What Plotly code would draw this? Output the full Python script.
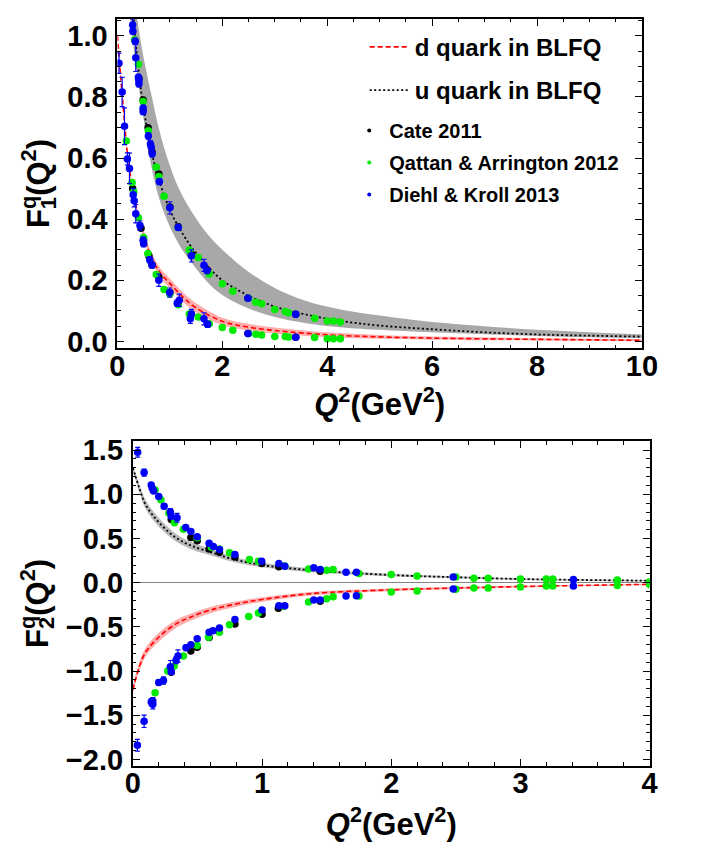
import plotly.graph_objects as go

# ---------------- top panel: F1 ----------------
F1_d_grid = [0, 0.05, 0.1, 0.2, 0.3, 0.4, 0.5, 0.6, 0.8, 1.0, 1.25, 1.5, 2.0, 2.5, 3.0, 4.0, 5.0, 6.0, 8.0, 10.0]
F1_d_curve = [1.0, 0.89, 0.79, 0.60, 0.49, 0.41, 0.35, 0.295, 0.228, 0.19, 0.145, 0.11, 0.066, 0.047, 0.036, 0.022, 0.015, 0.011, 0.007, 0.004]
F1_d_upper = [1.0, 0.895, 0.798, 0.61, 0.502, 0.423, 0.364, 0.31, 0.244, 0.206, 0.161, 0.125, 0.078, 0.058, 0.046, 0.03, 0.021, 0.016, 0.011, 0.007]
F1_d_lower = [1.0, 0.885, 0.782, 0.59, 0.478, 0.397, 0.336, 0.28, 0.212, 0.174, 0.129, 0.095, 0.054, 0.036, 0.026, 0.014, 0.009, 0.006, 0.003, 0.001]

F1_u_grid = [0.2, 0.25, 0.3, 0.37, 0.45, 0.55, 0.65, 0.8, 1.0, 1.2, 1.45, 1.7, 2.0, 2.5, 3.0, 3.6, 4.3, 5.0, 6.0, 7.0, 8.0, 9.0, 10.0]
F1_u_curve = [1.36, 1.2, 1.075, 0.94, 0.82, 0.71, 0.62, 0.525, 0.43, 0.365, 0.30, 0.25, 0.20, 0.15, 0.114, 0.088, 0.066, 0.052, 0.040, 0.030, 0.023, 0.019, 0.016]
F1_u_upper = [1.5, 1.35, 1.2, 1.07, 0.975, 0.885, 0.805, 0.69, 0.575, 0.49, 0.415, 0.355, 0.30, 0.228, 0.175, 0.132, 0.103, 0.085, 0.064, 0.05, 0.038, 0.03, 0.023]
F1_u_lower = [1.15, 1.045, 0.97, 0.88, 0.785, 0.67, 0.57, 0.465, 0.375, 0.31, 0.25, 0.197, 0.152, 0.108, 0.080, 0.060, 0.046, 0.038, 0.030, 0.024, 0.018, 0.014, 0.011]

F1_cate_x = [0.29, 0.45, 0.50, 0.60, 0.66, 0.79, 1.0, 1.16, 1.41, 1.72, 2.49, 3.4,
             0.41, 0.49, 0.585, 0.66, 0.79, 1.0, 1.16, 1.41, 1.71, 2.49, 3.4]
F1_cate_y = [0.50, 0.37, 0.33, 0.28, 0.25, 0.21, 0.16, 0.125, 0.09, 0.056, 0.026, 0.014,
             0.86, 0.79, 0.699, 0.62, 0.548, 0.44, 0.375, 0.285, 0.235, 0.141, 0.089]

F1_qa_x = [0.17, 0.28, 0.31, 0.40, 0.50, 0.58, 0.74, 0.89, 1.0, 1.16, 1.37, 1.54, 1.75, 2.0, 2.2, 2.5, 2.64, 2.75, 3.0, 3.2, 3.26, 3.76, 4.0, 4.12, 4.25,
           0.326, 0.40, 0.49, 0.59, 0.74, 0.79, 0.89, 1.16, 1.37, 1.54, 1.75, 2.0, 2.2, 2.5, 2.64, 2.75, 3.0, 3.2, 3.26, 3.76, 4.0, 4.12, 4.25]
F1_qa_y = [0.656, 0.52, 0.49, 0.405, 0.34, 0.288, 0.219, 0.17, 0.155, 0.12, 0.09, 0.08, 0.058, 0.046, 0.037, 0.026, 0.024, 0.021, 0.016, 0.016, 0.015, 0.013, 0.009, 0.009, 0.009,
           0.987, 0.907, 0.785, 0.689, 0.571, 0.54, 0.475, 0.373, 0.299, 0.275, 0.221, 0.189, 0.164, 0.141, 0.128, 0.123, 0.105, 0.098, 0.094, 0.076, 0.067, 0.067, 0.064]

F1_dk_x = [0.03, 0.09, 0.135, 0.19, 0.23, 0.30, 0.32, 0.35, 0.43, 0.49, 0.50, 0.615, 0.66, 0.79, 0.996, 1.14, 1.18, 1.39, 1.41, 1.65, 1.72, 2.49, 3.4,
           0.29, 0.295, 0.338, 0.35, 0.40, 0.41, 0.41, 0.49, 0.49, 0.59, 0.63, 0.645, 0.664, 0.80, 1.0, 1.16, 1.41, 1.65, 1.71, 2.49, 3.4]
F1_dk_y = [0.91, 0.816, 0.704, 0.597, 0.566, 0.48, 0.46, 0.418, 0.379, 0.331, 0.32, 0.267, 0.25, 0.20, 0.16, 0.125, 0.135, 0.074, 0.09, 0.074, 0.056, 0.026, 0.014,
           1.035, 1.015, 0.982, 0.928, 0.864, 0.854, 0.843, 0.763, 0.752, 0.672, 0.646, 0.635, 0.614, 0.523, 0.437, 0.373, 0.28, 0.249, 0.232, 0.141, 0.089]
F1_dk_err = [0.033, 0.048, 0.06, 0.02, 0.05, 0.02, 0.02, 0.03, 0.015, 0.01, 0.01, 0.01, 0.01, 0.02, 0.015, 0.01, 0.02, 0.015, 0.015, 0.02, 0.01, 0.005, 0.005,
             0.02, 0.01, 0.01, 0.045, 0.01, 0.01, 0.01, 0.01, 0.01, 0.01, 0.01, 0.01, 0.01, 0.01, 0.02, 0.01, 0.02, 0.02, 0.01, 0.005, 0.005]

# ---------------- bottom panel: F2 ----------------
F2_grid = [0, 0.05, 0.1, 0.2, 0.33, 0.45, 0.6, 0.78, 1.0, 1.375, 2.0, 2.5, 3.0, 3.5, 4.0]
F2_u_curve = [1.30, 1.07, 0.88, 0.685, 0.513, 0.42, 0.347, 0.265, 0.20, 0.142, 0.087, 0.062, 0.042, 0.031, 0.023]
F2_u_upper = [1.33, 1.115, 0.93, 0.735, 0.558, 0.46, 0.382, 0.295, 0.225, 0.162, 0.102, 0.074, 0.052, 0.039, 0.030]
F2_u_lower = [1.27, 1.025, 0.83, 0.635, 0.468, 0.38, 0.312, 0.235, 0.175, 0.122, 0.072, 0.050, 0.032, 0.023, 0.016]
F2_d_curve = [-1.21, -0.95, -0.783, -0.617, -0.469, -0.387, -0.309, -0.246, -0.19, -0.124, -0.08, -0.06, -0.043, -0.03, -0.018]
F2_d_upper = [-1.17, -0.90, -0.733, -0.567, -0.424, -0.347, -0.274, -0.216, -0.165, -0.104, -0.065, -0.048, -0.033, -0.022, -0.011]
F2_d_lower = [-1.25, -1.00, -0.833, -0.667, -0.514, -0.427, -0.344, -0.276, -0.215, -0.144, -0.095, -0.072, -0.053, -0.038, -0.025]

F2_cate_x = [0.297, 0.449, 0.498, 0.59, 0.67, 0.79, 0.997, 1.13, 1.45,
             0.297, 0.449, 0.498, 0.59, 0.666, 0.79, 1.0, 1.126, 1.45]
F2_cate_y = [0.716, 0.513, 0.476, 0.383, 0.346, 0.291, 0.217, 0.18, 0.13,
             -1.013, -0.772, -0.73, -0.62, -0.55, -0.468, -0.357, -0.29, -0.21]

F2_qa_x = [0.172, 0.217, 0.279, 0.322, 0.391, 0.498, 0.608, 0.67, 0.748, 0.902, 0.972, 1.176, 1.36, 1.5, 1.55, 1.75, 2.0, 2.2, 2.5, 2.64, 2.75, 3.0, 3.2, 3.25, 3.75, 4.0,
           0.172, 0.27, 0.32, 0.391, 0.498, 0.585, 0.67, 0.748, 0.897, 0.972, 1.17, 1.36, 1.5, 1.55, 1.75, 2.0, 2.2, 2.5, 2.64, 2.75, 3.0, 3.2, 3.25, 3.75, 4.0]
F2_qa_y = [1.05, 0.94, 0.79, 0.68, 0.606, 0.51, 0.402, 0.383, 0.339, 0.264, 0.243, 0.19, 0.154, 0.14, 0.15, 0.105, 0.094, 0.075, 0.064, 0.052, 0.052, 0.041, 0.041, 0.041, 0.03, 0.012,
           -1.246, -1.0, -0.943, -0.828, -0.709, -0.617, -0.56, -0.476, -0.383, -0.343, -0.265, -0.217, -0.18, -0.16, -0.15, -0.105, -0.094, -0.075, -0.06, -0.06, -0.049, -0.037, -0.037, -0.03, -0.02]

F2_dk_x = [0.037, 0.087, 0.142, 0.15, 0.16, 0.2, 0.242, 0.29, 0.297, 0.342, 0.409, 0.449, 0.498, 0.59, 0.623, 0.67, 0.79, 0.997, 1.13, 1.176, 1.4, 1.45, 1.65, 1.73, 2.48, 3.41,
           0.035, 0.087, 0.142, 0.154, 0.154, 0.2, 0.237, 0.29, 0.297, 0.334, 0.349, 0.411, 0.449, 0.498, 0.59, 0.62, 0.67, 0.79, 1.0, 1.13, 1.176, 1.4, 1.45, 1.65, 1.73, 2.48, 3.41]
F2_dk_y = [1.476, 1.246, 1.106, 1.068, 1.039, 0.976, 0.865, 0.80, 0.753, 0.735, 0.624, 0.58, 0.52, 0.446, 0.41, 0.376, 0.32, 0.243, 0.217, 0.187, 0.17, 0.15, 0.12, 0.12, 0.064, 0.037,
           -1.839, -1.568, -1.35, -1.339, -1.376, -1.128, -1.106, -0.95, -1.006, -0.876, -0.83, -0.735, -0.702, -0.635, -0.561, -0.543, -0.513, -0.417, -0.309, -0.261, -0.261, -0.195, -0.195, -0.15, -0.146, -0.071, -0.037]
F2_dk_err = [0.055, 0.04, 0.02, 0.04, 0.02, 0.02, 0.03, 0.04, 0.02, 0.05, 0.02, 0.02, 0.02, 0.02, 0.02, 0.02, 0.02, 0.02, 0.01, 0.01, 0.01, 0.01, 0.01, 0.01, 0.01, 0.01,
             0.067, 0.07, 0.04, 0.04, 0.05, 0.03, 0.04, 0.07, 0.03, 0.04, 0.07, 0.03, 0.02, 0.02, 0.02, 0.02, 0.02, 0.02, 0.02, 0.01, 0.01, 0.01, 0.01, 0.01, 0.01, 0.01, 0.01]

LINE_NAMES = ["d quark in BLFQ", "u quark in BLFQ"]
DATA_NAMES = ["Cate 2011", "Qattan & Arrington 2012", "Diehl & Kroll 2013"]

# ---------------- styling ----------------
FONT = "Liberation Sans, Arial, Helvetica, sans-serif"
RED = "rgb(255,0,0)"
PINK = "rgba(255,60,60,0.42)"
GRAY_TOP = "rgb(168,168,168)"
GRAY_BOT = "rgb(185,185,185)"
GREEN = "rgb(0,235,0)"
BLUE = "rgb(0,0,245)"
MS = 7.5
SMOOTH = 1.0

fig = go.Figure()


def band(x, lo, hi, color, xa, ya):
    fig.add_trace(go.Scatter(x=x, y=lo, mode="lines", line=dict(width=0, shape="spline", smoothing=SMOOTH),
                             showlegend=False, hoverinfo="skip", xaxis=xa, yaxis=ya))
    fig.add_trace(go.Scatter(x=x, y=hi, mode="lines", line=dict(width=0, shape="spline", smoothing=SMOOTH),
                             fill="tonexty", fillcolor=color, showlegend=False, hoverinfo="skip",
                             xaxis=xa, yaxis=ya))


# bands
band(F1_u_grid, F1_u_lower, F1_u_upper, GRAY_TOP, "x", "y")
band(F1_d_grid, F1_d_lower, F1_d_upper, PINK, "x", "y")
band(F2_grid, F2_u_lower, F2_u_upper, GRAY_BOT, "x2", "y2")
band(F2_grid, F2_d_lower, F2_d_upper, PINK, "x2", "y2")

# curves
fig.add_trace(go.Scatter(x=F1_d_grid, y=F1_d_curve, mode="lines", name=LINE_NAMES[0],
                         line=dict(color=RED, width=1.6, dash="5px,3px", shape="spline", smoothing=SMOOTH),
                         legend="legend", legendgroup="d", xaxis="x", yaxis="y"))
fig.add_trace(go.Scatter(x=F1_u_grid, y=F1_u_curve, mode="lines", name=LINE_NAMES[1],
                         line=dict(color="black", width=1.8, dash="2px,2.5px", shape="spline", smoothing=SMOOTH),
                         legend="legend", legendgroup="u", xaxis="x", yaxis="y"))
fig.add_trace(go.Scatter(x=F2_grid, y=F2_d_curve, mode="lines", showlegend=False,
                         line=dict(color=RED, width=1.6, dash="5px,3px", shape="spline", smoothing=SMOOTH),
                         xaxis="x2", yaxis="y2"))
fig.add_trace(go.Scatter(x=F2_grid, y=F2_u_curve, mode="lines", showlegend=False,
                         line=dict(color="black", width=1.8, dash="2px,2.5px", shape="spline", smoothing=SMOOTH),
                         xaxis="x2", yaxis="y2"))

# data
for xa, ya, cx, cy, qx, qy, dx, dy, de in [
    ("x", "y", F1_cate_x, F1_cate_y, F1_qa_x, F1_qa_y, F1_dk_x, F1_dk_y, F1_dk_err),
    ("x2", "y2", F2_cate_x, F2_cate_y, F2_qa_x, F2_qa_y, F2_dk_x, F2_dk_y, F2_dk_err),
]:
    fig.add_trace(go.Scatter(x=cx, y=cy, mode="markers", showlegend=False,
                             marker=dict(color="black", size=MS), xaxis=xa, yaxis=ya))
    fig.add_trace(go.Scatter(x=qx, y=qy, mode="markers", showlegend=False,
                             marker=dict(color=GREEN, size=MS), xaxis=xa, yaxis=ya))
    fig.add_trace(go.Scatter(x=dx, y=dy, mode="markers", showlegend=False,
                             marker=dict(color=BLUE, size=MS),
                             error_y=dict(type="data", array=de, color=BLUE, thickness=1.2, width=2.5),
                             xaxis=xa, yaxis=ya))

# legend-only entries for data sets (small dots)
for name, col in zip(DATA_NAMES, ["black", GREEN, BLUE]):
    fig.add_trace(go.Scatter(x=[None], y=[None], mode="markers", name=name,
                             marker=dict(color=col, size=4), legend="legend2", legendgroup=name,
                             xaxis="x", yaxis="y"))

tickfont = dict(family=FONT, size=29, color="black", weight="bold")
titlefont = dict(family=FONT, size=31, color="black", weight="bold")


def ax(**kw):
    d = dict(showline=True, linecolor="black", linewidth=2, mirror="ticks",
             ticks="inside", ticklen=7, tickwidth=1.3, tickcolor="black",
             showgrid=False, zeroline=False, tickfont=tickfont,
             minor=dict(ticks="inside", ticklen=3.5, tickwidth=1, tickcolor="black", showgrid=False))
    d.update(kw)
    return d


fig.update_layout(
    width=704, height=851,
    margin=dict(l=0, r=0, t=0, b=0),
    paper_bgcolor="white", plot_bgcolor="white",
    showlegend=True,
    xaxis=ax(domain=[105/704, 648/704], anchor="y", range=[0, 10], dtick=2, tick0=0,
             minor_dtick=0.5, ticklabelstandoff=-9,
             title=dict(text="<i>Q</i><sup>2</sup>(GeV<sup>2</sup>)", font=titlefont, standoff=2)),
    yaxis=ax(domain=[1 - 340/851, 1 - 4/851], anchor="x", range=[-0.022, 1.055], dtick=0.2, tick0=0,
             tickformat=".1f", minor_dtick=0.05, ticklabelstandoff=2,
             title=dict(text="F<sub><span style='letter-spacing:-12px'>1</span></sub><sup>q</sup>(Q<sup>2</sup>)",
                        font=titlefont, standoff=8)),
    xaxis2=ax(domain=[121/704, 656/704], anchor="y2", range=[0, 4], dtick=1, tick0=0,
              minor_dtick=0.2, ticklabelstandoff=-9,
              title=dict(text="<i>Q</i><sup>2</sup>(GeV<sup>2</sup>)", font=titlefont, standoff=15)),
    yaxis2=ax(domain=[1 - 766/851, 1 - 435/851], anchor="x2", range=[-2.07, 1.6], dtick=0.5, tick0=0,
              tickformat=".1f", minor_dtick=0.1, ticklabelstandoff=2,
              zeroline=True, zerolinecolor="rgb(130,130,130)", zerolinewidth=1,
              title=dict(text="F<sub><span style='letter-spacing:-12px'>2</span></sub><sup>q</sup>(Q<sup>2</sup>)",
                         font=titlefont, standoff=8)),
    legend=dict(x=361/704, y=1 - 10/851, xanchor="left", yanchor="top",
                bgcolor="rgba(0,0,0,0)", borderwidth=0, tracegroupgap=9, itemwidth=40,
                font=dict(family=FONT, size=24, color="black", weight="bold")),
    legend2=dict(x=345/704, y=1 - 98/851, xanchor="left", yanchor="top",
                 bgcolor="rgba(0,0,0,0)", borderwidth=0, tracegroupgap=3,
                 font=dict(family=FONT, size=20, color="black", weight="bold")),
)

fig.write_html("out.html")
